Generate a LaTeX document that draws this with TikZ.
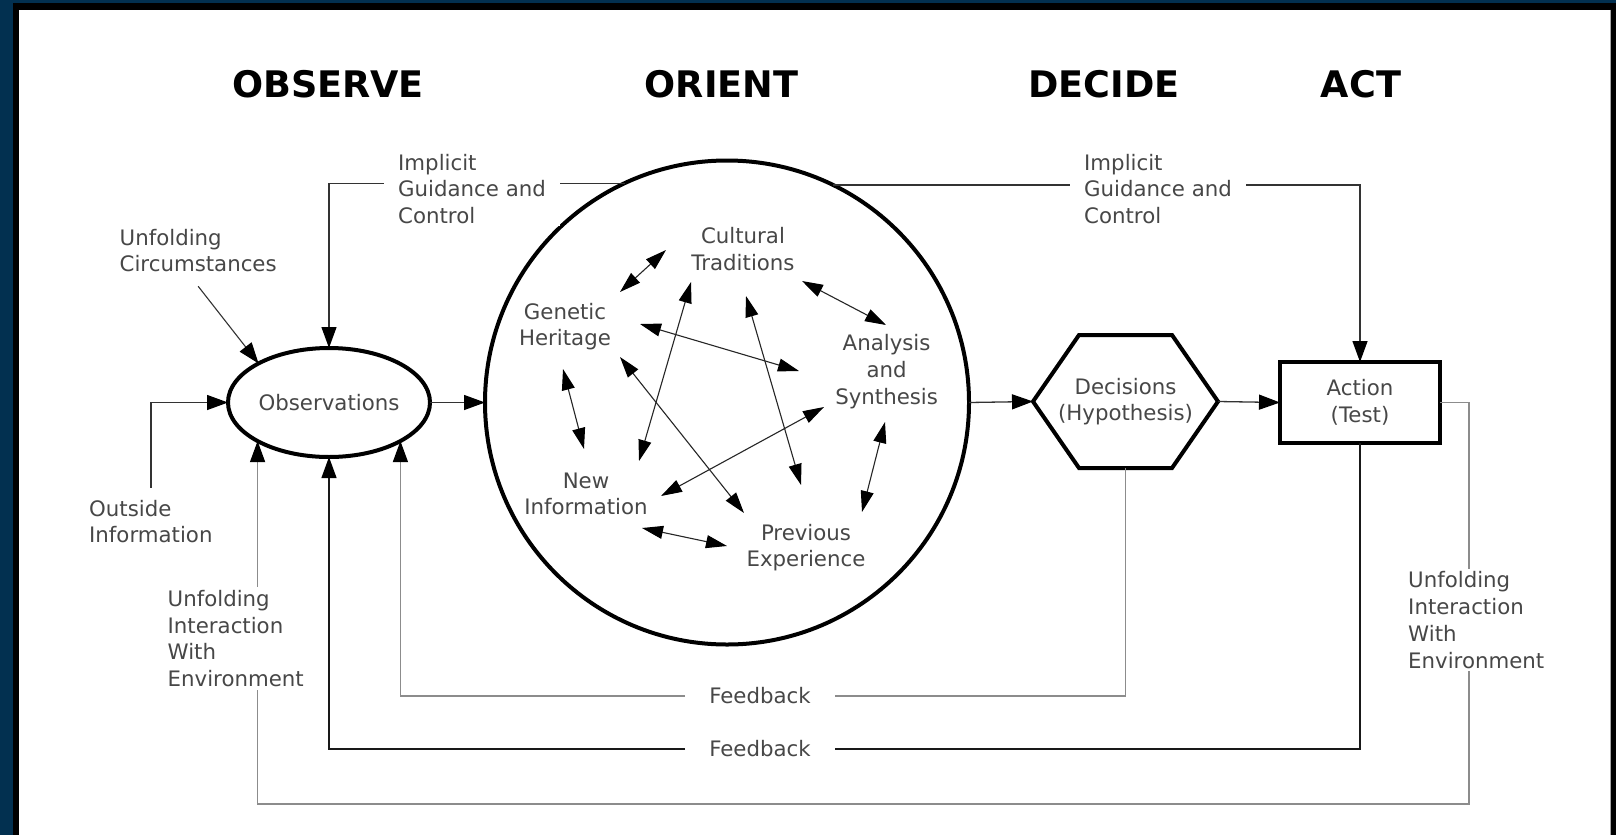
\documentclass[tikz,border=0pt]{standalone}
\usepackage{fontspec}
\setmainfont{DejaVu Sans}
\usetikzlibrary{arrows.meta,calc,shapes.geometric}
\definecolor{framenavy}{HTML}{023050}
\newcommand\oodabody{\fontsize{21.3}{26.7}\selectfont}
\newcommand\oodatitle{\fontsize{36.6}{40}\selectfont\bfseries}
\begin{document}
\begin{tikzpicture}[x=1pt,y=-1pt,
  lbl/.style={font=\oodabody, text=black!72, align=center, inner sep=0pt},
  lbll/.style={font=\oodabody, text=black!72, align=left, inner sep=0pt},
  cut/.style={fill=white},
  ttl/.style={font=\oodatitle, text=black, inner sep=0pt},
  shp/.style={draw=black, line width=4pt, outer sep=0pt, inner sep=0pt},
  conn/.style={draw=black!80, line width=1.3pt},
  connlight/.style={draw=black!45, line width=1.3pt},
  tip/.style={-{Triangle[length=21pt,width=15pt,color=black]}},
  inarr/.style={draw=black!85, line width=1.1pt,
    {Triangle[length=21pt,width=13pt,color=black]}-{Triangle[length=21pt,width=13pt,color=black]}}
]
\useasboundingbox (0,0) rectangle (1616,835);
% frame
\fill[framenavy] (0,0) rectangle (1616,835);
\fill[black] (13,3) rectangle (1616,835);
\fill[white] (19,9.5) rectangle (1611,835);
\draw[black!35, line width=1pt] (1610.5,9.5) -- (1610.5,835);

% titles
\node[ttl] (tobs) at (328,84) {OBSERVE};
\node[ttl] (tori) at (721.5,84) {ORIENT};
\node[ttl] (tdec) at (1104,84) {DECIDE};
\node[ttl] (tact) at (1361,84) {ACT};

% main shapes
\node[lbl, shp, ellipse, minimum width=202pt, minimum height=109pt] (obs) at (329,402.5) {Observations};
\node[shp, circle, minimum size=484pt] (orient) at (727,402.5) {};
\node[lbl, minimum width=185pt, minimum height=133pt, outer sep=0pt] (dec) at (1125.5,401.5) {Decisions\\(Hypothesis)};
\draw[line width=4pt, line join=miter] (dec.west) -- ([xshift=46pt]dec.north west) -- ([xshift=-46pt]dec.north east) -- (dec.east) -- ([xshift=-46pt]dec.south east) -- ([xshift=46pt]dec.south west) -- cycle;
\node[lbl, draw=black, line width=4.5pt, outer sep=0pt, minimum width=160pt, minimum height=81pt] (act) at (1360,402.5) {Action\\(Test)};

% feedback labels (paths break at them)
\node[lbl, inner xsep=24pt, inner ysep=4pt] (fb1) at (760,696) {Feedback};
\node[lbl, inner xsep=24pt, inner ysep=4pt] (fb2) at (760,749) {Feedback};

% other labels used as connector ends
\node[lbll, anchor=west, inner ysep=14pt] (uc) at (119.5,250.5) {Unfolding\\Circumstances};
\node[lbll, anchor=west, inner ysep=12pt] (outside) at (89,521.5) {Outside\\Information};
\coordinate (envr) at (1469,804);

% main flow
\draw[conn, tip] (obs.east) -- (orient.west);
\draw[conn, tip] (orient.east) -- (dec.west);
\draw[conn, tip] (dec.east) -- (act.west);

% inputs to observe
\draw[conn, tip] (outside.north) |- (obs.west);
\draw[conn, line width=1.1pt, tip] (uc.south) -- (obs.151);

% implicit guidance and control
\draw[conn, tip] (orient.115.45) -| (obs.north);
\draw[conn, tip] (orient.64.55) -| (act.north);

% feedback loops
\draw[connlight, tip] (dec.south) |- (fb1) -| (obs.south east);
\draw[conn, draw=black!90, line width=1.2pt, tip] (act.south) |- (fb2) -| (obs.south);
\draw[connlight, tip] (act.east) -| (envr) -| (obs.south west);

% labels that interrupt connectors
\node[lbll, cut, anchor=west, inner xsep=14pt, inner ysep=2pt] (igl) at (384,189) {Implicit\\Guidance and\\Control};
\node[lbll, cut, anchor=west, inner xsep=14pt, inner ysep=2pt] (igr) at (1070,189) {Implicit\\Guidance and\\Control};
\node[lbll, cut, anchor=west, inner xsep=0pt, inner ysep=3pt] (uiel) at (167.5,638.5) {Unfolding\\Interaction\\With\\Environment};
\node[lbll, cut, anchor=west, inner xsep=0pt, inner ysep=3pt] (uier) at (1408,620) {Unfolding\\Interaction\\With\\Environment};

% orient contents
\node[lbl] (cult) at (743,249) {Cultural\\Traditions};
\node[lbl] (gen) at (565,326.5) {Genetic\\Heritage};
\node[lbl] (ana) at (886.6,371.5) {Analysis\\and\\Synthesis};
\node[lbl] (newi) at (586,494) {New\\Information};
\node[lbl] (prev) at (806,547.5) {Previous\\Experience};

\coordinate (gc1) at (620,292); \coordinate (gc2) at (666,250);
\coordinate (gn1) at (563,369); \coordinate (gn2) at (584,449);
\coordinate (ga1) at (640,324); \coordinate (ga2) at (799,371);
\coordinate (gp1) at (620,357); \coordinate (gp2) at (744,513);
\coordinate (cn1) at (691,282); \coordinate (cn2) at (639,461);
\coordinate (cp1) at (746,296); \coordinate (cp2) at (801,485);
\coordinate (ca1) at (802,281); \coordinate (ca2) at (886,325);
\coordinate (an1) at (824,407); \coordinate (an2) at (661,496);
\coordinate (ap1) at (885,422); \coordinate (ap2) at (862,512);
\coordinate (np1) at (642,528); \coordinate (np2) at (727,546);

\draw[inarr] (gc1) -- (gc2);
\draw[inarr] (gn1) -- (gn2);
\draw[inarr] (ga1) -- (ga2);
\draw[inarr] (gp1) -- (gp2);
\draw[inarr] (cn1) -- (cn2);
\draw[inarr] (cp1) -- (cp2);
\draw[inarr] (ca1) -- (ca2);
\draw[inarr] (an1) -- (an2);
\draw[inarr] (ap1) -- (ap2);
\draw[inarr] (np1) -- (np2);
\end{tikzpicture}
\end{document}
